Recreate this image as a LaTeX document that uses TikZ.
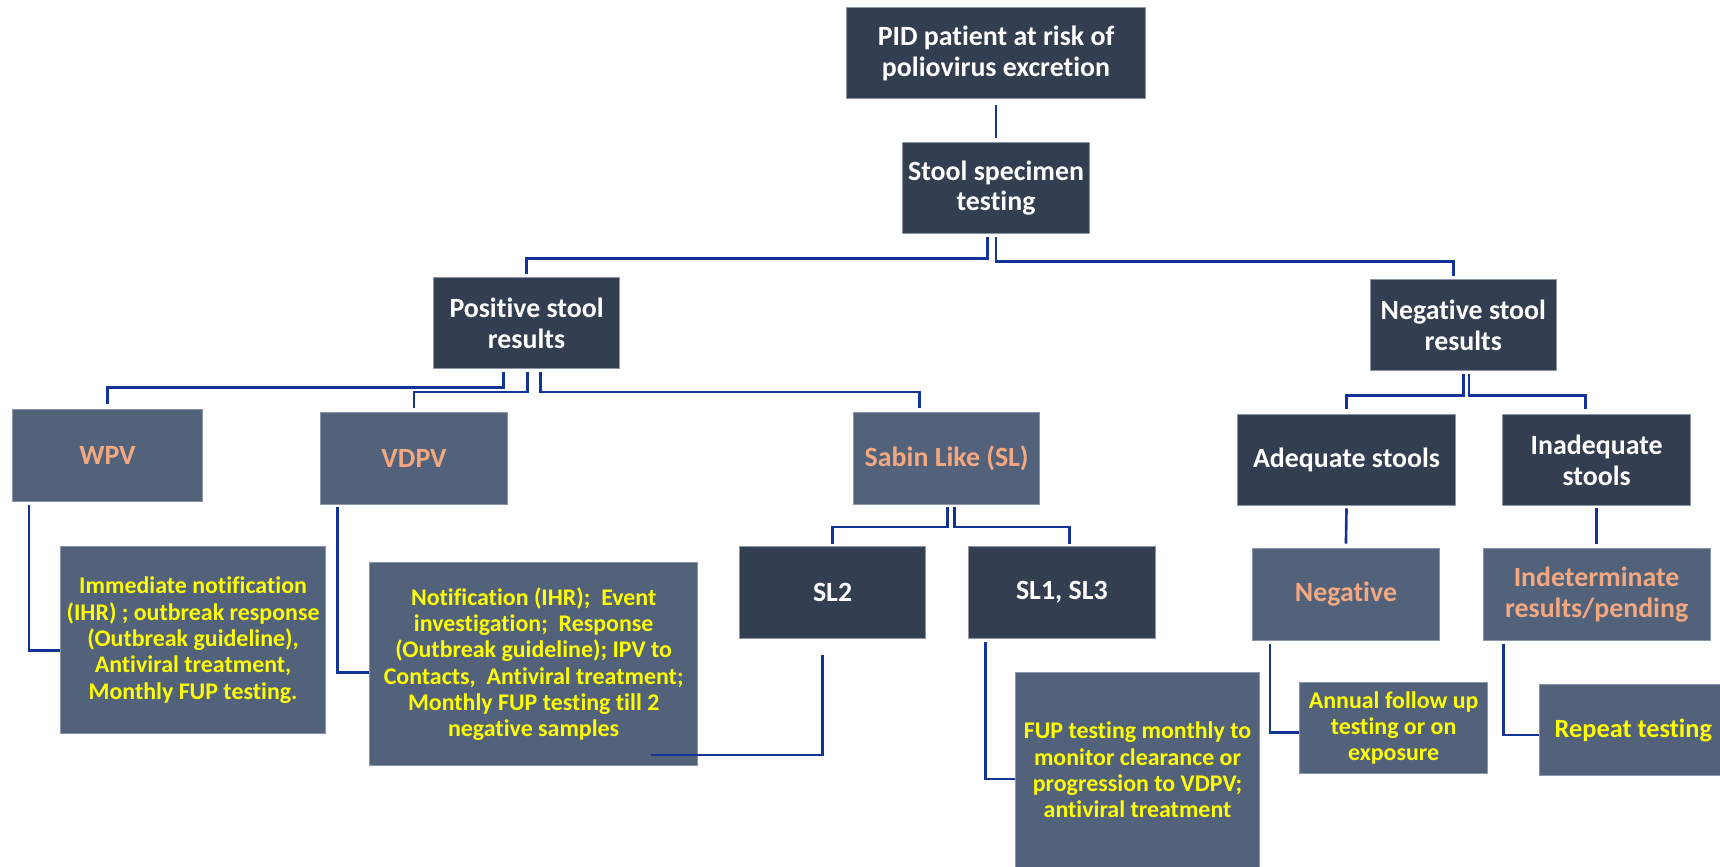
\documentclass[tikz,border=0pt]{standalone}
\usepackage{fontspec}
\setmainfont{Carlito}[Ligatures={NoCommon,NoRare,NoContextual}, Contextuals=NoAlternate]
\definecolor{darkbox}{RGB}{51,62,80}
\definecolor{midbox}{RGB}{82,98,122}
\definecolor{boxline}{RGB}{140,150,168}
\definecolor{connblue}{RGB}{18,52,150}
\definecolor{orangetxt}{RGB}{244,168,128}
\definecolor{yellowtxt}{RGB}{255,255,0}
\tikzset{
  base/.style={rectangle, draw=boxline, line width=0.4pt, inner sep=0pt, align=center, font=\bfseries\fontsize{12.7}{14}\selectfont},
  dark/.style={base, fill=darkbox, text=white},
  mid/.style={base, fill=midbox, text=orangetxt},
  act/.style={base, fill=midbox, text=yellowtxt, font=\bfseries\fontsize{10.9}{12}\selectfont},
  conn/.style={draw=connblue, line width=1.2pt},
}
\begin{document}
\begin{tikzpicture}[x=0.5pt, y=-0.5pt]
\useasboundingbox (0,0) rectangle (1568,790);
\clip (0,0) rectangle (1568,790);
% top
\node[dark, minimum width=136pt, minimum height=41.5pt] (pid) at (908,48.5) {PID patient at risk of\\poliovirus excretion};
\node[dark, minimum width=85pt, minimum height=41.5pt] (stool) at (908,171.5) {Stool specimen\\testing};
\node[dark, minimum width=85pt, minimum height=41.5pt] (pos) at (480,294.5) {Positive stool\\results};
\node[dark, minimum width=85pt, minimum height=41.5pt] (neg) at (1334,296.5) {Negative stool\\results};
% positive branch
\node[mid, minimum width=87pt, minimum height=42pt] (wpv) at (98,415) {WPV};
\node[mid, minimum width=85.5pt, minimum height=42pt] (vdpv) at (377.5,418) {VDPV};
\node[mid, minimum width=85pt, minimum height=42pt] (sl) at (863,418) {Sabin Like (SL)};
\node[dark, minimum width=85pt, minimum height=42pt] (sl2) at (759,540) {SL2};
\node[dark, minimum width=85pt, minimum height=42pt] (sl13) at (968,540) {SL1, SL3};
\node[act, minimum width=121pt, minimum height=85.5pt] (wpva) at (176,583.5) {Immediate notification\\(IHR) ; outbreak response\\(Outbreak guideline),\\Antiviral treatment,\\Monthly FUP testing.};
\node[act, minimum width=149.5pt, minimum height=92.5pt] (vdpva) at (486.5,605.5) {Notification (IHR);\ \ Event\\investigation;\ \ Response\\(Outbreak guideline); IPV to\\Contacts,\ \ Antiviral treatment;\\Monthly FUP testing till 2\\negative samples};
\node[act, minimum width=111pt, minimum height=93.5pt] (sla) at (1037,706.5) {};
\node[act, draw=none, fill=none] (slatxt) at (1037,702) {FUP testing monthly to\\monitor clearance or\\progression to VDPV;\\antiviral treatment};
% negative branch
\node[dark, minimum width=99.5pt, minimum height=41.5pt] (adeq) at (1227.5,419.5) {Adequate stools};
\node[dark, minimum width=85.5pt, minimum height=41.5pt] (inad) at (1455.5,419.5) {Inadequate\\stools};
\node[mid, minimum width=85pt, minimum height=42pt] (negr) at (1227,542) {Negative};
\node[mid, minimum width=103.5pt, minimum height=42pt] (indet) at (1455.5,542) {Indeterminate\\results/pending};
\node[act, minimum width=85.5pt, minimum height=41.5pt] (annual) at (1270.5,663.5) {Annual follow up\\testing or on\\exposure};
\node[act, font=\bfseries\fontsize{12}{14}\selectfont, minimum width=86pt, minimum height=41.5pt] (repeat) at (1489,665.5) {Repeat testing};
% connectors
\draw[conn] ([yshift=-2.5pt]pid.south) -- ([yshift=2pt]stool.north);
\draw[conn] ([xshift=-4pt,yshift=-1.5pt]stool.south) -- ++(0,19) -| ([yshift=1.5pt]pos.north);
\draw[conn] ([yshift=-1.5pt]stool.south) -- ++(0,22) -| ([xshift=-4.5pt,yshift=1.5pt]neg.north);
\draw[conn] ([xshift=-10.5pt,yshift=-1.5pt]pos.south) -- ++(0,14) -| ([yshift=2pt]wpv.north);
\draw[conn] ([xshift=0.5pt,yshift=-1.5pt]pos.south) -- ++(0,18) -| ([yshift=2pt]vdpv.north);
\draw[conn] ([xshift=6.5pt,yshift=-1.5pt]pos.south) -- ++(0,18) -| ([xshift=-12.5pt,yshift=2pt]sl.north);
\draw[conn] ([xshift=0.5pt,yshift=-1pt]sl.south) -- ++(0,18) -| ([yshift=1pt]sl2.north);
\draw[conn] ([xshift=3.5pt,yshift=-1pt]sl.south) -- ++(0,18) -| ([xshift=3.5pt,yshift=1pt]sl13.north);
\draw[conn] ([yshift=-1.5pt]neg.south) -- ++(0,19) -| ([yshift=2.5pt]adeq.north);
\draw[conn] ([xshift=2.5pt,yshift=-1.5pt]neg.south) -- ++(0,19) -| ([xshift=-5pt,yshift=2.5pt]inad.north);
\draw[conn] ([yshift=-1pt]adeq.south) -- ([yshift=2pt]negr.north);
\draw[conn] ([yshift=-1pt]inad.south) -- ([yshift=2pt]indet.north);
\draw[conn] ([xshift=8pt,yshift=-1.5pt]wpv.south west) |- ([yshift=-4.75pt]wpva.west);
\draw[conn] ([xshift=8pt,yshift=-1pt]vdpv.south west) |- ([yshift=-3.75pt]vdpva.west);
\draw[conn] ([xshift=-4.5pt,yshift=-7.5pt]sl2.south) |- ([xshift=-21.5pt,yshift=5pt]vdpva.south east);
\draw[conn] ([xshift=8pt,yshift=-1.5pt]sl13.south west) |- ([yshift=-1.75pt]sla.west);
\draw[conn] ([xshift=8pt,yshift=-1.5pt]negr.south west) |- ([yshift=-2.25pt]annual.west);
\draw[conn] ([xshift=9.5pt,yshift=-1.5pt]indet.south west) |- ([yshift=-2.25pt]repeat.west);
\end{tikzpicture}
\end{document}
